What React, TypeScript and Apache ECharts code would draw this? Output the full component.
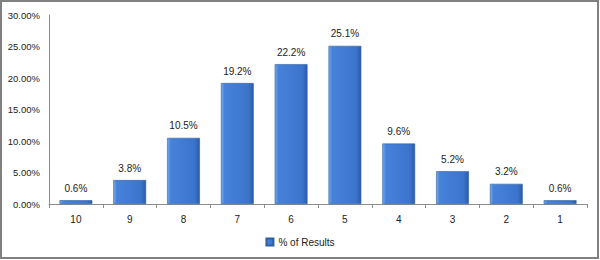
import React, { useEffect, useRef } from "react";
import * as echarts from "echarts";

const categories = ["10", "9", "8", "7", "6", "5", "4", "3", "2", "1"];
const values = [0.6, 3.8, 10.5, 19.2, 22.2, 25.1, 9.6, 5.2, 3.2, 0.6];
const seriesName = "% of Results";
const yMax = 30;
const yInterval = 5;

export default function App() {
  const ref = useRef<HTMLDivElement>(null);
  useEffect(() => {
    if (!ref.current) return;
    const chart = echarts.init(ref.current, undefined, { renderer: "svg" });
    const font = "'Liberation Sans', Arial, sans-serif";
    chart.setOption({
      animation: false,
      backgroundColor: "#ffffff",
      textStyle: { fontFamily: font },
      grid: { left: 49, right: 13, top: 15, bottom: 56, containLabel: false },
      legend: {
        data: [seriesName],
        bottom: 8,
        left: "center",
        itemWidth: 7,
        itemHeight: 7,
        itemGap: 4,
        icon: "rect",
        textStyle: { fontSize: 10, color: "#222", fontFamily: font },
      },
      xAxis: {
        type: "category",
        data: categories,
        axisLine: { lineStyle: { color: "#8c8c8c", width: 1 } },
        axisTick: { show: true, alignWithLabel: false, length: 4, lineStyle: { color: "#8c8c8c" } },
        axisLabel: { fontSize: 10, color: "#222", margin: 10, fontFamily: font },
      },
      yAxis: {
        type: "value",
        min: 0,
        max: yMax,
        interval: yInterval,
        axisLine: { show: true, lineStyle: { color: "#8c8c8c", width: 1 } },
        axisTick: { show: false },
        splitLine: { show: false },
        axisLabel: {
          fontSize: 9.5,
          color: "#222",
          margin: 9,
          fontFamily: font,
          formatter: (v: number) => v.toFixed(2) + "%",
        },
      },
      series: [
        {
          name: seriesName,
          type: "bar",
          data: values,
          barCategoryGap: "39%",
          itemStyle: {
            color: new echarts.graphic.LinearGradient(0, 0, 1, 0, [
              { offset: 0, color: "#7aaaee" },
              { offset: 0.1, color: "#4782da" },
              { offset: 0.85, color: "#3b74cc" },
              { offset: 1, color: "#2b5ba6" },
            ]),
            borderColor: "#2f5f9f",
            borderWidth: 0.6,
          },
          label: {
            show: true,
            position: "top",
            distance: 7,
            fontSize: 10,
            color: "#222",
            fontFamily: font,
            formatter: (p: any) => p.value.toFixed(1) + "%",
          },
        },
      ],
      graphic: [
        {
          type: "rect",
          shape: { x: 1, y: 1, width: 597, height: 257 },
          style: { fill: "none", stroke: "#808080", lineWidth: 2 },
          silent: true,
        },
      ],
    });
    return () => chart.dispose();
  }, []);
  return (
    <div
      ref={ref}
      style={{ position: "fixed", left: 0, top: 0, width: 600, height: 260 }}
    />
  );
}
